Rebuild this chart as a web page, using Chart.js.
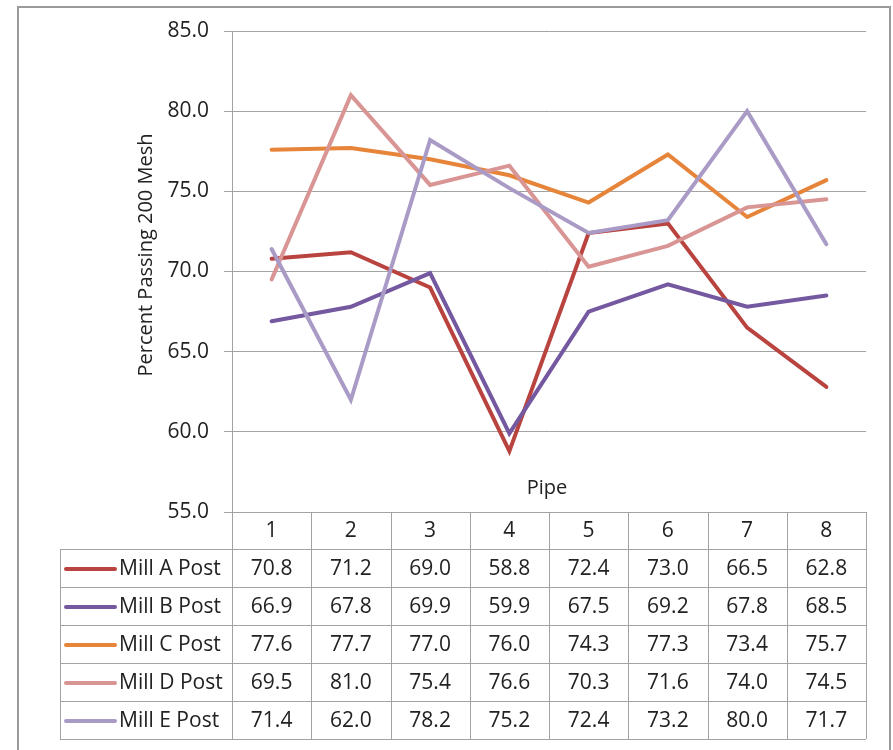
<!DOCTYPE html>
<html>
<head>
<meta charset="utf-8">
<script src="https://cdn.jsdelivr.net/npm/chart.js@4.4.1/dist/chart.umd.min.js"></script>
<style>
  html, body { margin: 0; padding: 0; background: #ffffff; }
  canvas { display: block; }
</style>
</head>
<body>
<canvas id="chart" width="893" height="750"></canvas>
<script>
// Pipe numbers along the category axis
const pipes = ['1', '2', '3', '4', '5', '6', '7', '8'];

// Percent passing 200 mesh, one array per mill
const millA = [70.8, 71.2, 69.0, 58.8, 72.4, 73.0, 66.5, 62.8];
const millB = [66.9, 67.8, 69.9, 59.9, 67.5, 69.2, 67.8, 68.5];
const millC = [77.6, 77.7, 77.0, 76.0, 74.3, 77.3, 73.4, 75.7];
const millD = [69.5, 81.0, 75.4, 76.6, 70.3, 71.6, 74.0, 74.5];
const millE = [71.4, 62.0, 78.2, 75.2, 72.4, 73.2, 80.0, 71.7];

const seriesNames = ['Mill A Post', 'Mill B Post', 'Mill C Post', 'Mill D Post', 'Mill E Post'];
const seriesValues = [millA, millB, millC, millD, millE];
const seriesColors = ['#b9433f', '#7458a0', '#e6843a', '#d89594', '#a99bc6'];

const yTitle = 'Percent Passing 200 Mesh';
const xTitle = 'Pipe';

const FONT = '"Open Sans", "Liberation Sans", sans-serif';
const TEXT = '#222222';
const GRID = '#a3a3a3';

// Table geometry below the plot
const TABLE = { legendLeft: 60, headerH: 37, rowH: 38 };

const frame = {
  id: 'frame',
  beforeDraw(chart) {
    const ctx = chart.ctx;
    ctx.save();
    ctx.fillStyle = '#ffffff';
    ctx.fillRect(0, 0, chart.width, chart.height);
    ctx.strokeStyle = '#9a9a9a';
    ctx.lineWidth = 2;
    ctx.strokeRect(18, 7, 872, chart.height + 20);
    ctx.restore();
  }
};

const dataTable = {
  id: 'dataTable',
  afterDraw(chart) {
    const ctx = chart.ctx;
    const area = chart.chartArea;
    const x = chart.scales.x;
    const n = pipes.length;
    const colW = (area.right - area.left) / n;
    const top = area.bottom;
    const headBottom = top + TABLE.headerH;
    const bottom = headBottom + TABLE.rowH * seriesNames.length;

    ctx.save();
    ctx.strokeStyle = GRID;
    ctx.lineWidth = 1;
    ctx.beginPath();
    for (let k = 0; k <= n; k++) {
      const cx = Math.round(area.left + k * colW) + 0.5;
      ctx.moveTo(cx, top);
      ctx.lineTo(cx, bottom);
    }
    ctx.moveTo(TABLE.legendLeft + 0.5, headBottom);
    ctx.lineTo(TABLE.legendLeft + 0.5, bottom);
    for (let r = 0; r <= seriesNames.length; r++) {
      const ry = Math.round(headBottom + r * TABLE.rowH) + 0.5;
      ctx.moveTo(TABLE.legendLeft, ry);
      ctx.lineTo(area.right, ry);
    }
    ctx.stroke();

    ctx.fillStyle = TEXT;
    ctx.font = '21px ' + FONT;
    ctx.textAlign = 'center';
    ctx.textBaseline = 'middle';
    pipes.forEach((p, i) => {
      ctx.fillText(p, x.getPixelForValue(i), top + TABLE.headerH / 2 + 1);
    });

    seriesNames.forEach((name, r) => {
      const cy = headBottom + r * TABLE.rowH + TABLE.rowH / 2 + 1;
      ctx.strokeStyle = seriesColors[r];
      ctx.lineWidth = 4;
      ctx.lineCap = 'round';
      ctx.beginPath();
      ctx.moveTo(66, cy);
      ctx.lineTo(115, cy);
      ctx.stroke();
      ctx.fillStyle = TEXT;
      ctx.textAlign = 'left';
      ctx.fillText(name, 119, cy);
      ctx.textAlign = 'center';
      seriesValues[r].forEach((v, i) => {
        ctx.fillText(v.toFixed(1), x.getPixelForValue(i), cy);
      });
    });

    // axis titles
    ctx.font = '20px ' + FONT;
    ctx.fillText(xTitle, (area.left + area.right) / 2 - 2, 488);
    ctx.translate(146, 255);
    ctx.rotate(-Math.PI / 2);
    ctx.fillText(yTitle, 0, 0);
    ctx.restore();
  }
};

new Chart(document.getElementById('chart'), {
  type: 'line',
  data: {
    labels: pipes,
    datasets: seriesNames.map((name, i) => ({
      label: name,
      data: seriesValues[i],
      borderColor: seriesColors[i],
      backgroundColor: seriesColors[i],
      borderWidth: 4,
      pointRadius: 0,
      tension: 0,
      borderCapStyle: 'round',
      order: seriesNames.length - i
    }))
  },
  options: {
    responsive: false,
    animation: false,
    devicePixelRatio: 1,
    layout: { padding: { left: 0, top: 31, right: 27, bottom: 238 } },
    plugins: {
      legend: { display: false },
      tooltip: { enabled: false }
    },
    scales: {
      x: {
        display: false,
        offset: true
      },
      y: {
        min: 55,
        max: 85,
        afterFit(scale) { scale.width = 232; },
        ticks: {
          stepSize: 5,
          padding: 15,
          color: TEXT,
          font: { family: FONT, size: 21 },
          callback: (v) => Number(v).toFixed(1)
        },
        grid: {
          color: GRID,
          lineWidth: 1,
          tickLength: 8,
          drawTicks: true
        },
        border: { display: true, color: GRID }
      }
    }
  },
  plugins: [frame, dataTable]
});
</script>
</body>
</html>
